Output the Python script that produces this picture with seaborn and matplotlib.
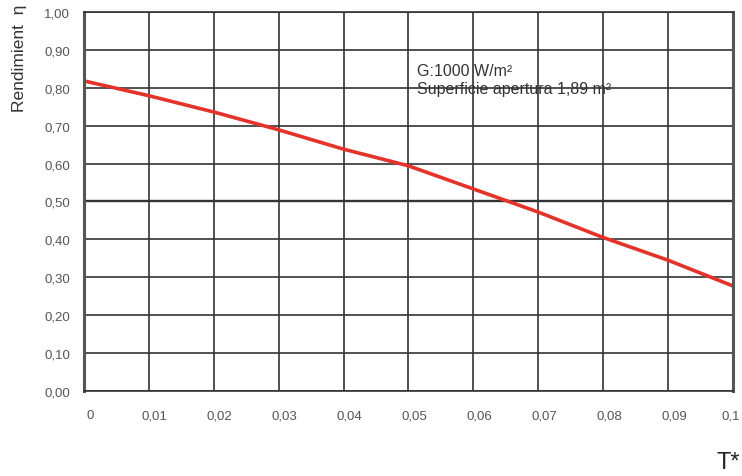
import numpy as np
import pandas as pd
import matplotlib.pyplot as plt
import matplotlib.transforms as mtransforms
import seaborn as sns

# ------------------------------------------------------------------
# Data
# ------------------------------------------------------------------
t_star = [0.0, 0.01, 0.02, 0.03, 0.04, 0.05, 0.06, 0.07, 0.08, 0.09, 0.10]
efficiency = [0.818, 0.779, 0.736, 0.689, 0.638, 0.594, 0.533, 0.472, 0.405, 0.345, 0.277]

x_ticks = [0.0, 0.01, 0.02, 0.03, 0.04, 0.05, 0.06, 0.07, 0.08, 0.09, 0.10]
x_labels = ['0', '0,01', '0,02', '0,03', '0,04', '0,05', '0,06', '0,07', '0,08', '0,09', '0,1']
y_ticks = [0.0, 0.1, 0.2, 0.3, 0.4, 0.5, 0.6, 0.7, 0.8, 0.9, 1.0]
y_labels = ['0,00', '0,10', '0,20', '0,30', '0,40', '0,50', '0,60', '0,70', '0,80', '0,90', '1,00']

df = pd.DataFrame({'T*': t_star, 'eta': efficiency})

sns.set_theme(style='white')
plt.rcParams['font.family'] = ['Liberation Sans', 'DejaVu Sans']

fig = plt.figure(figsize=(7.42, 4.77), dpi=100)
ax = fig.add_axes([0.113, 0.178, 0.875, 0.795])

sns.lineplot(data=df, x='T*', y='eta', ax=ax, color='#e3332a', linewidth=2.6)

ax.set_xlim(0, 0.1)
ax.set_ylim(0, 1.0)
ax.set_xticks(x_ticks)
ax.set_xticklabels(x_labels)
ax.set_yticks(y_ticks)
ax.set_yticklabels(y_labels)
ax.tick_params(axis='both', length=0, labelsize=9.5, labelcolor='#555555')
ax.tick_params(axis='x', pad=13)
ax.tick_params(axis='y', pad=10)

# x labels sit a little to the right of their grid lines (last one kept inside)
labels = ax.get_xticklabels()
for i, lbl in enumerate(labels):
    dx = 6 if i < len(labels) - 1 else -2
    shift = mtransforms.ScaledTranslation(dx / 100, 0, fig.dpi_scale_trans)
    lbl.set_transform(lbl.get_transform() + shift)

# grid
for xv in x_ticks:
    ax.axvline(xv, color='#333333', linewidth=1.2, zorder=0)
for yv in y_ticks:
    ax.axhline(yv, color='#333333', linewidth=1.7 if yv == 0.5 else 1.2, zorder=0)

for side in ['top', 'bottom']:
    ax.spines[side].set_color('#333333')
    ax.spines[side].set_linewidth(1.2)
for side in ['left', 'right']:
    ax.spines[side].set_color('#555555')
    ax.spines[side].set_linewidth(2.2)

ax.set_xlabel('')
ax.set_ylabel('')

ax.text(0.0513, 0.845, 'G:1000 W/m²', fontsize=11.5, color='#333333', va='center')
ax.text(0.0513, 0.798, 'Superficie apertura 1,89 m²', fontsize=11.5, color='#333333', va='center')

fig.text(0.026, 0.99, 'Rendimient  η', rotation=90, ha='center', va='top',
         fontsize=12.5, color='#333333')
fig.text(0.966, 0.03, 'T*', fontsize=17, color='#222222', ha='left', va='center')

fig.savefig('out.png', dpi=100)
